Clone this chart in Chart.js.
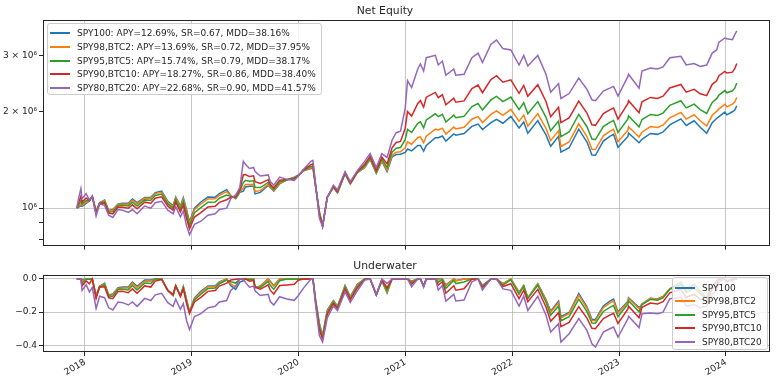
<!DOCTYPE html>
<html>
<head>
<meta charset="utf-8">
<script src="https://cdn.jsdelivr.net/npm/chart.js@4.4.1/dist/chart.umd.min.js"></script>
<style>
  html, body { margin:0; padding:0; background:#fff; width:778px; height:382px; overflow:hidden; font-family:"DejaVu Sans", sans-serif; }
  canvas { position:absolute; left:0; }
  #cTop { top:2px; }
  #cBot { top:257px; }
  .legend { position:absolute; background:rgba(255,255,255,0.8); border:1px solid #cccccc; border-radius:3px; box-sizing:border-box; }
  .legend .row { position:absolute; left:0; right:0; height:12px; }
  .legend .swatch { position:absolute; left:2px; top:5px; width:20px; height:2px; }
  .legend .txt { position:absolute; left:29px; top:0; font-size:9px; line-height:12px; color:#262626; white-space:nowrap; }
</style>
</head>
<body>
<canvas id="cTop" width="778" height="251"></canvas>
<canvas id="cBot" width="778" height="125"></canvas>
<div id="legTop" class="legend" style="left:47px; top:23px; width:275px; height:72px;"></div>
<div id="legBot" class="legend" style="left:672px; top:277px; width:96px; height:73px;"></div>
<script>
// ---------------- data ----------------
const dates = ["2017-12-04","2017-12-11","2017-12-18","2017-12-22","2018-01-05","2018-01-16","2018-01-26","2018-02-08","2018-02-20","2018-03-09","2018-03-23","2018-04-06","2018-04-24","2018-05-10","2018-05-29","2018-06-12","2018-06-28","2018-07-24","2018-08-14","2018-08-29","2018-09-20","2018-10-11","2018-10-29","2018-11-07","2018-11-23","2018-12-03","2018-12-14","2018-12-24",
"2019-01-10","2019-02-01","2019-02-25","2019-03-22","2019-04-05","2019-04-30","2019-05-14","2019-05-31","2019-06-14","2019-06-26","2019-07-03","2019-07-17","2019-07-31","2019-08-05","2019-08-23","2019-09-19","2019-09-26","2019-10-08","2019-10-28","2019-11-22","2019-12-17","2019-12-31",
"2020-01-17","2020-02-12","2020-02-19","2020-02-28","2020-03-12","2020-03-23","2020-04-08","2020-04-29","2020-05-13","2020-06-08","2020-06-26","2020-07-20","2020-08-14","2020-09-02","2020-09-23","2020-10-12","2020-10-30","2020-11-16","2020-11-30","2020-12-15","2020-12-31",
"2021-01-08","2021-01-22","2021-02-12","2021-02-21","2021-03-04","2021-03-13","2021-04-13","2021-04-23","2021-05-07","2021-05-19","2021-06-15","2021-06-22","2021-07-20","2021-08-16","2021-09-06","2021-09-21","2021-10-20","2021-11-08","2021-11-30","2021-12-27",
"2022-01-24","2022-02-09","2022-02-23","2022-03-29","2022-04-26","2022-05-12","2022-06-08","2022-06-16","2022-07-14","2022-08-16","2022-09-13","2022-09-30","2022-10-12","2022-11-08","2022-11-30","2022-12-13","2022-12-28",
"2023-01-31","2023-02-02","2023-03-10","2023-03-20","2023-04-18","2023-05-12","2023-05-31","2023-06-23","2023-07-31","2023-08-18","2023-09-14","2023-10-05","2023-10-27","2023-11-15","2023-11-30","2023-12-08","2023-12-28",
"2024-01-04","2024-01-23","2024-01-31","2024-02-07"];

const seriesNames = ["SPY100","SPY98,BTC2","SPY95,BTC5","SPY90,BTC10","SPY80,BTC20"];
const apy = ["12.69","13.69","15.74","18.27","22.68"];
const sharpe = ["0.67","0.72","0.79","0.86","0.90"];
const mdd = ["38.16","37.95","38.17","38.40","41.57"];

// Net equity, in millions of dollars
const eqSpy100 = [1.000,1.008,1.018,1.013,1.035,1.052,1.088,0.980,1.040,1.060,0.983,0.990,1.030,1.035,1.035,1.067,1.040,1.080,1.082,1.118,1.130,1.050,1.017,1.084,1.016,1.078,0.990,0.906,
1.000,1.045,1.083,1.082,1.110,1.142,1.095,1.070,1.120,1.130,1.165,1.170,1.170,1.108,1.120,1.177,1.160,1.130,1.190,1.225,1.250,1.267,
1.307,1.330,1.333,1.168,0.978,0.880,1.082,1.159,1.115,1.280,1.190,1.290,1.337,1.420,1.283,1.402,1.300,1.445,1.470,1.474,1.493,
1.530,1.510,1.570,1.570,1.507,1.570,1.660,1.660,1.680,1.620,1.705,1.690,1.710,1.800,1.830,1.760,1.850,1.895,1.842,1.935,
1.780,1.857,1.714,1.878,1.694,1.560,1.676,1.496,1.544,1.764,1.609,1.464,1.462,1.620,1.676,1.700,1.550,
1.674,1.717,1.600,1.640,1.711,1.700,1.730,1.820,1.900,1.813,1.874,1.790,1.714,1.850,1.905,1.930,1.995,
1.956,2.000,2.024,2.088];
const eqSpy98Btc2 = [1.000,1.015,1.031,1.019,1.043,1.053,1.088,0.976,1.039,1.056,0.980,0.984,1.026,1.030,1.028,1.059,1.031,1.073,1.073,1.110,1.121,1.043,1.011,1.076,1.008,1.067,0.978,0.897,
0.988,1.030,1.068,1.069,1.097,1.126,1.092,1.073,1.124,1.156,1.185,1.186,1.187,1.127,1.134,1.186,1.165,1.135,1.196,1.226,1.247,1.266,
1.308,1.337,1.341,1.170,0.973,0.880,1.082,1.161,1.118,1.282,1.192,1.292,1.343,1.426,1.289,1.410,1.314,1.464,1.495,1.500,1.544,
1.611,1.584,1.663,1.670,1.601,1.677,1.766,1.754,1.778,1.703,1.791,1.768,1.788,1.896,1.931,1.851,1.963,2.012,1.949,2.035,
1.867,1.953,1.803,1.973,1.773,1.625,1.744,1.558,1.609,1.834,1.674,1.527,1.524,1.682,1.738,1.763,1.611,
1.752,1.795,1.668,1.727,1.798,1.786,1.817,1.915,1.992,1.898,1.957,1.874,1.805,1.950,2.006,2.042,2.110,
2.072,2.112,2.143,2.215];
const eqSpy95Btc5 = [1.000,1.028,1.055,1.029,1.056,1.054,1.088,0.970,1.037,1.048,0.973,0.974,1.018,1.020,1.016,1.044,1.016,1.061,1.058,1.095,1.106,1.031,1.000,1.062,0.993,1.049,0.957,0.882,
0.967,1.004,1.043,1.045,1.074,1.099,1.088,1.079,1.132,1.202,1.221,1.214,1.217,1.161,1.159,1.203,1.174,1.144,1.207,1.227,1.241,1.265,
1.311,1.350,1.355,1.174,0.964,0.879,1.081,1.165,1.122,1.286,1.196,1.296,1.355,1.437,1.299,1.424,1.339,1.496,1.539,1.547,1.637,
1.764,1.723,1.841,1.861,1.781,1.885,1.971,1.932,1.964,1.858,1.952,1.915,1.935,2.077,2.122,2.024,2.178,2.235,2.152,2.223,
2.030,2.134,1.972,2.151,1.922,1.746,1.871,1.673,1.729,1.963,1.796,1.643,1.638,1.798,1.853,1.879,1.725,
1.898,1.941,1.793,1.891,1.962,1.948,1.981,2.094,2.165,2.057,2.112,2.032,1.976,2.139,2.198,2.255,2.329,
2.292,2.325,2.369,2.460];
const eqSpy90Btc10 = [1.000,1.047,1.089,1.044,1.076,1.056,1.089,0.961,1.035,1.038,0.965,0.959,1.008,1.007,0.999,1.024,0.995,1.044,1.036,1.074,1.085,1.014,0.985,1.043,0.973,1.023,0.928,0.861,
0.938,0.968,1.008,1.013,1.042,1.062,1.081,1.086,1.142,1.271,1.274,1.255,1.261,1.210,1.195,1.227,1.187,1.157,1.223,1.228,1.233,1.263,
1.314,1.368,1.375,1.180,0.951,0.877,1.081,1.171,1.129,1.291,1.201,1.301,1.371,1.453,1.314,1.444,1.375,1.544,1.603,1.615,1.777,
2.004,1.939,2.124,2.167,2.068,2.221,2.299,2.213,2.260,2.102,2.204,2.142,2.162,2.362,2.424,2.294,2.522,2.593,2.474,2.516,
2.284,2.417,2.236,2.430,2.153,1.931,2.065,1.850,1.913,2.160,1.982,1.822,1.814,1.974,2.028,2.055,1.898,
2.124,2.166,1.986,2.149,2.217,2.202,2.237,2.374,2.434,2.303,2.351,2.276,2.245,2.436,2.499,2.592,2.675,
2.643,2.660,2.727,2.830];
const eqSpy80Btc20 = [1.000,1.080,1.150,1.070,1.110,1.060,1.090,0.945,1.030,1.020,0.950,0.935,0.990,0.985,0.970,0.990,0.960,1.015,1.000,1.040,1.050,0.985,0.960,1.010,0.940,0.980,0.880,0.826,
0.890,0.910,0.950,0.960,0.990,1.000,1.070,1.100,1.160,1.400,1.370,1.330,1.340,1.300,1.260,1.270,1.210,1.180,1.250,1.230,1.220,1.260,
1.320,1.400,1.410,1.190,0.930,0.875,1.080,1.180,1.140,1.300,1.210,1.310,1.400,1.480,1.340,1.480,1.440,1.630,1.720,1.740,2.050,
2.500,2.380,2.720,2.820,2.680,2.950,3.000,2.800,2.880,2.600,2.720,2.600,2.620,2.950,3.050,2.850,3.250,3.350,3.150,3.120,
2.800,3.000,2.780,3.000,2.620,2.300,2.450,2.200,2.280,2.550,2.350,2.180,2.165,2.320,2.370,2.400,2.240,
2.580,2.620,2.370,2.680,2.740,2.720,2.760,2.950,2.980,2.800,2.830,2.770,2.800,3.050,3.120,3.300,3.400,
3.380,3.360,3.480,3.580];

// Underwater (drawdown from running peak)
const ddSpy100 = [0,0,0,-0.005,0,0,0,-0.099,-0.044,-0.026,-0.097,-0.090,-0.053,-0.049,-0.049,-0.019,-0.044,-0.007,-0.006,0,0,-0.071,-0.100,-0.041,-0.101,-0.046,-0.124,-0.198,
-0.115,-0.075,-0.042,-0.042,-0.018,0,-0.041,-0.063,-0.019,-0.011,0,0,0,-0.053,-0.043,0,-0.014,-0.040,0,0,0,0,
0,0,0,-0.124,-0.266,-0.340,-0.188,-0.131,-0.164,-0.040,-0.107,-0.032,0,0,-0.096,-0.013,-0.085,0,0,0,0,
0,-0.013,0,0,-0.040,0,0,0,0,-0.036,0,-0.009,0,0,0,-0.038,0,0,-0.028,0,
-0.080,-0.040,-0.114,-0.029,-0.125,-0.194,-0.134,-0.227,-0.202,-0.088,-0.168,-0.243,-0.244,-0.163,-0.134,-0.121,-0.199,
-0.135,-0.113,-0.173,-0.152,-0.116,-0.121,-0.106,-0.059,-0.018,-0.063,-0.032,-0.075,-0.114,-0.044,-0.016,-0.003,0,
-0.020,0,0,0];
const ddSpy98Btc2 = [0,0,0,-0.012,0,0,0,-0.103,-0.045,-0.030,-0.100,-0.096,-0.057,-0.054,-0.055,-0.027,-0.052,-0.014,-0.014,0,0,-0.070,-0.099,-0.040,-0.101,-0.048,-0.128,-0.200,
-0.119,-0.082,-0.047,-0.047,-0.022,0,-0.030,-0.047,-0.002,0,0,0,0,-0.051,-0.044,0,-0.018,-0.044,0,0,0,0,
0,0,0,-0.127,-0.275,-0.344,-0.193,-0.134,-0.167,-0.044,-0.111,-0.036,0,0,-0.096,-0.011,-0.079,0,0,0,0,
0,-0.017,0,0,-0.041,0,0,-0.007,0,-0.042,0,-0.013,-0.001,0,0,-0.041,0,0,-0.031,0,
-0.083,-0.040,-0.114,-0.030,-0.128,-0.201,-0.143,-0.234,-0.209,-0.099,-0.177,-0.250,-0.251,-0.173,-0.146,-0.134,-0.208,
-0.139,-0.118,-0.180,-0.151,-0.117,-0.122,-0.107,-0.059,-0.021,-0.067,-0.038,-0.079,-0.113,-0.042,-0.014,0,0,
-0.018,0,0,0];
const ddSpy95Btc5 = [0,0,0,-0.025,0,-0.002,0,-0.109,-0.047,-0.037,-0.105,-0.105,-0.064,-0.062,-0.066,-0.040,-0.066,-0.025,-0.028,0,0,-0.068,-0.096,-0.040,-0.102,-0.052,-0.135,-0.203,
-0.126,-0.092,-0.058,-0.055,-0.029,-0.007,-0.017,-0.025,0,0,0,-0.005,-0.003,-0.049,-0.051,-0.015,-0.038,-0.063,-0.011,0,0,0,
0,0,0,-0.133,-0.289,-0.352,-0.202,-0.140,-0.172,-0.051,-0.118,-0.044,0,0,-0.096,-0.009,-0.068,0,0,0,0,
0,-0.023,0,0,-0.043,0,0,-0.020,-0.003,-0.057,-0.009,-0.028,-0.018,0,0,-0.046,0,0,-0.037,-0.006,
-0.092,-0.045,-0.118,-0.038,-0.140,-0.219,-0.163,-0.252,-0.227,-0.122,-0.197,-0.265,-0.267,-0.196,-0.171,-0.160,-0.228,
-0.151,-0.132,-0.198,-0.154,-0.123,-0.128,-0.114,-0.063,-0.032,-0.080,-0.055,-0.091,-0.116,-0.043,-0.017,0,0,
-0.016,-0.002,0,0];
const ddSpy90Btc10 = [0,0,0,-0.041,-0.012,-0.030,0,-0.118,-0.050,-0.047,-0.114,-0.119,-0.075,-0.075,-0.083,-0.060,-0.086,-0.042,-0.049,-0.013,-0.003,-0.069,-0.095,-0.043,-0.106,-0.061,-0.148,-0.209,
-0.139,-0.111,-0.075,-0.070,-0.043,-0.025,-0.007,-0.002,0,0,0,-0.014,-0.010,-0.050,-0.062,-0.036,-0.068,-0.091,-0.040,-0.036,-0.032,-0.008,
0,0,0,-0.142,-0.308,-0.362,-0.214,-0.149,-0.179,-0.061,-0.126,-0.054,-0.003,0,-0.095,-0.006,-0.053,0,0,0,0,
0,-0.032,0,0,-0.045,0,0,-0.037,-0.017,-0.086,-0.041,-0.068,-0.059,0,0,-0.053,0,0,-0.046,-0.029,
-0.119,-0.068,-0.137,-0.063,-0.169,-0.255,-0.203,-0.287,-0.262,-0.167,-0.236,-0.297,-0.300,-0.239,-0.218,-0.207,-0.268,
-0.181,-0.164,-0.234,-0.171,-0.145,-0.151,-0.137,-0.084,-0.061,-0.112,-0.093,-0.122,-0.134,-0.061,-0.036,0,0,
-0.012,-0.005,0,0];
const ddSpy80Btc20 = [0,0,0,-0.070,-0.035,-0.078,-0.052,-0.178,-0.104,-0.113,-0.174,-0.187,-0.139,-0.143,-0.157,-0.139,-0.165,-0.117,-0.130,-0.096,-0.087,-0.143,-0.165,-0.122,-0.183,-0.148,-0.250,-0.305,
-0.226,-0.209,-0.174,-0.165,-0.139,-0.130,-0.070,-0.043,0,0,-0.021,-0.050,-0.043,-0.071,-0.100,-0.093,-0.136,-0.157,-0.107,-0.121,-0.129,-0.100,
-0.057,0,0,-0.156,-0.340,-0.379,-0.234,-0.163,-0.191,-0.078,-0.142,-0.071,-0.007,0,-0.095,0,-0.027,0,0,0,0,
0,-0.048,0,0,-0.050,0,0,-0.067,-0.040,-0.133,-0.093,-0.133,-0.127,-0.017,0,-0.066,0,0,-0.060,-0.069,
-0.164,-0.104,-0.190,-0.104,-0.218,-0.320,-0.269,-0.380,-0.330,-0.239,-0.310,-0.390,-0.410,-0.320,-0.300,-0.290,-0.350,
-0.240,-0.225,-0.293,-0.210,-0.205,-0.210,-0.200,-0.119,-0.110,-0.164,-0.155,-0.173,-0.164,-0.090,-0.069,-0.015,0,
-0.006,-0.012,0,0];

// tick values and labels
const xTickYears = [2018,2019,2020,2021,2022,2023,2024];
const xTickLabels = ["2018","2019","2020","2021","2022","2023","2024"];
const eqTickValues = [800000,900000,1000000,2000000,3000000];
const eqTickLabels = ["","","10\u2076","2 \u00d7 10\u2076","3 \u00d7 10\u2076"];
const ddTickValues = [0,-0.2,-0.4];
const ddTickLabels = ["0.0","\u22120.2","\u22120.4"];

// ---------------- chart ----------------
const colors = ["#1f77b4","#ff7f0e","#2ca02c","#d62728","#9467bd"];
const equity = [eqSpy100, eqSpy98Btc2, eqSpy95Btc5, eqSpy90Btc10, eqSpy80Btc20];
const under  = [ddSpy100, ddSpy98Btc2, ddSpy95Btc5, ddSpy90Btc10, ddSpy80Btc20];

function toYear(s){
  const p = s.split("-").map(Number);
  const t = Date.UTC(p[0], p[1]-1, p[2]), a = Date.UTC(p[0],0,1), b = Date.UTC(p[0]+1,0,1);
  return p[0] + (t-a)/(b-a);
}
const xs = dates.map(toYear);

Chart.defaults.font.family = '"DejaVu Sans", sans-serif';
Chart.defaults.font.size = 9;
Chart.defaults.color = "#262626";

const GRID = "rgba(176,176,176,0.7)";
const INK = "#262626";

const framePlugin = {
  id: "frame",
  afterDatasetsDraw(chart){
    const a = chart.chartArea, ctx = chart.ctx;
    ctx.save();
    ctx.strokeStyle = INK; ctx.lineWidth = 1;
    ctx.strokeRect(Math.round(a.left)+0.5, Math.round(a.top)+0.5, Math.round(a.right)-Math.round(a.left)-1, Math.round(a.bottom)-Math.round(a.top)-1);
    ctx.restore();
  }
};

function xScale(showLabels){
  return {
    type: "linear", min: 2017.607, max: 2024.412,
    afterBuildTicks: s => { s.ticks = xTickYears.map(v => ({value: v})); },
    afterFit: s => { s.height = showLabels ? 30 : 4; },
    grid: { color: GRID, lineWidth: 1, tickLength: 4, tickColor: INK, tickWidth: 1 },
    border: { display: false },
    ticks: {
      display: showLabels, autoSkip: false, minRotation: 30, maxRotation: 30, padding: 1,
      font: { size: 9 }, color: INK,
      callback: v => { const i = xTickYears.indexOf(v); return i < 0 ? "" : xTickLabels[i]; }
    }
  };
}

function makeDatasets(arrs, scale){
  return arrs.map((arr, i) => ({
    label: seriesNames[i],
    data: arr.map((v, k) => ({ x: xs[k], y: v * scale })),
    borderColor: colors[i], backgroundColor: colors[i],
    borderWidth: 1.5, pointRadius: 0, tension: 0, fill: false,
    order: arrs.length - 1 - i
  }));
}

function titleOpts(text){
  return { display: true, text: text, color: INK, font: { size: 10.8, weight: "normal" }, padding: { top: 3, bottom: 2 } };
}

new Chart(document.getElementById("cTop"), {
  type: "line",
  data: { datasets: makeDatasets(equity, 1e6) },
  options: {
    responsive: false, animation: false, devicePixelRatio: 1,
    layout: { padding: { left: 0, right: 8, top: 0, bottom: 0 } },
    plugins: { legend: { display: false }, tooltip: { enabled: false }, title: titleOpts("Net Equity") },
    scales: {
      x: xScale(false),
      y: {
        type: "logarithmic", min: 763700, max: 3871000,
        afterBuildTicks: s => { s.ticks = eqTickValues.map(v => ({value: v})); },
        afterFit: s => { s.width = 43; },
        grid: { color: c => (c.tick && c.tick.value === 1000000) ? GRID : "rgba(0,0,0,0)", tickColor: INK, tickLength: 4, lineWidth: 1 },
        border: { display: false },
        ticks: { padding: 2, autoSkip: false, color: INK, font: { size: 9 },
          callback: v => { const i = eqTickValues.indexOf(v); return i < 0 ? "" : eqTickLabels[i]; } }
      }
    }
  },
  plugins: [framePlugin]
});

new Chart(document.getElementById("cBot"), {
  type: "line",
  data: { datasets: makeDatasets(under, 1) },
  options: {
    responsive: false, animation: false, devicePixelRatio: 1,
    layout: { padding: { left: 0, right: 8, top: 0, bottom: 0 } },
    plugins: { legend: { display: false }, tooltip: { enabled: false }, title: titleOpts("Underwater") },
    scales: {
      x: xScale(true),
      y: {
        type: "linear", min: -0.4398, max: 0.0238,
        afterBuildTicks: s => { s.ticks = ddTickValues.map(v => ({value: v})); },
        afterFit: s => { s.width = 43; },
        grid: { color: GRID, tickColor: INK, tickLength: 4, lineWidth: 1 },
        border: { display: false },
        ticks: { padding: 2, autoSkip: false, color: INK, font: { size: 9 },
          callback: v => { const i = ddTickValues.indexOf(v); return i < 0 ? "" : ddTickLabels[i]; } }
      }
    }
  },
  plugins: [framePlugin]
});

// ---------------- legends (HTML text) ----------------
function buildLegend(id, texts, firstCenter, step){
  const box = document.getElementById(id);
  texts.forEach((t, i) => {
    const row = document.createElement("div");
    row.className = "row";
    row.style.top = Math.round(firstCenter + step * i - 6) + "px";
    const sw = document.createElement("span");
    sw.className = "swatch"; sw.style.background = colors[i];
    const tx = document.createElement("span");
    tx.className = "txt"; tx.textContent = t;
    row.appendChild(sw); row.appendChild(tx); box.appendChild(row);
  });
}
buildLegend("legTop", seriesNames.map((n, i) => n + ": APY=" + apy[i] + "%, SR=" + sharpe[i] + ", MDD=" + mdd[i] + "%"), 9, 13.75);
buildLegend("legBot", seriesNames, 10, 13.4);
</script>
</body>
</html>
